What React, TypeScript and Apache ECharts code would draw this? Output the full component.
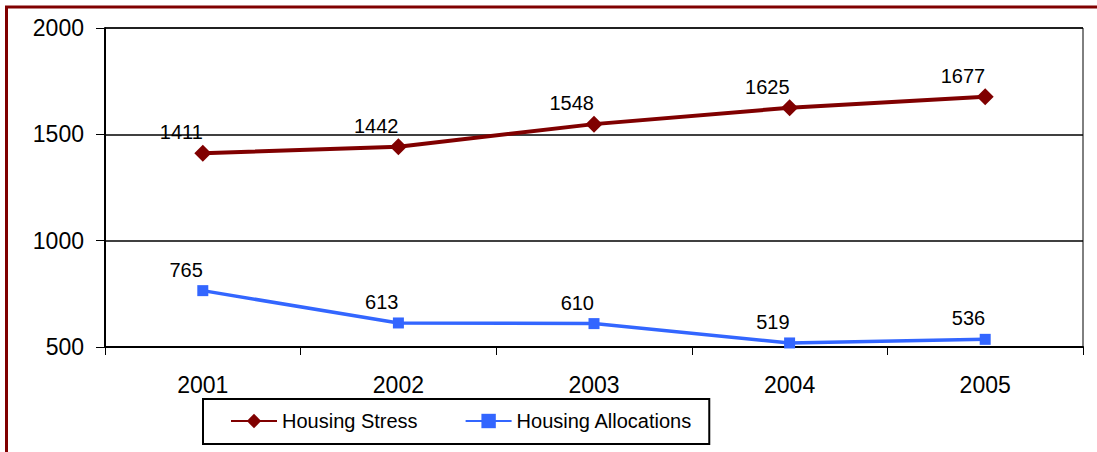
import React, { useEffect, useRef } from "react";
import * as echarts from "echarts";

const years = ["2001", "2002", "2003", "2004", "2005"];
const housingStress = [1411, 1442, 1548, 1625, 1677];
const housingAllocations = [765, 613, 610, 519, 536];
const yMin = 500;
const yMax = 2000;
const yStep = 500;

const FONT = "'Liberation Sans', Arial, sans-serif";

export default function App() {
  const ref = useRef<HTMLDivElement>(null);
  useEffect(() => {
    document.body.style.margin = "0";
    const chart = echarts.init(ref.current!, null, { renderer: "svg" });
    const labelCfg = {
      show: true,
      position: "inside",
      align: "right",
      offset: [0, -21],
      fontSize: 20,
      color: "#000",
      fontFamily: FONT,
    };
    chart.setOption({
      animation: false,
      backgroundColor: "#fff",
      textStyle: { fontFamily: FONT },
      graphic: [
        {
          type: "rect",
          shape: { x: 6.5, y: 7, width: 1300, height: 800 },
          style: { fill: "none", stroke: "#800000", lineWidth: 3 },
          silent: true,
          z: 100,
        },
      ],
      grid: {
        left: 105,
        top: 28,
        right: 14,
        bottom: 105,
        show: true,
        borderColor: "#000",
        borderWidth: 1,
      },
      legend: {
        left: 203,
        top: 399,
        padding: [12, 17, 13, 27],
        borderColor: "#000",
        borderWidth: 2,
        itemWidth: 46,
        itemHeight: 18,
        itemGap: 47,
        textStyle: { fontSize: 20, color: "#000", fontFamily: FONT },
        data: ["Housing Stress", "Housing Allocations"],
      },
      xAxis: {
        type: "category",
        data: years,
        axisLine: { lineStyle: { color: "#000", width: 2 } },
        axisTick: { show: true, length: 8, lineStyle: { color: "#000", width: 1 } },
        axisLabel: { fontSize: 23, color: "#000", margin: 26, fontFamily: FONT },
        splitLine: { show: false },
      },
      yAxis: {
        type: "value",
        min: yMin,
        max: yMax,
        interval: yStep,
        axisLine: { show: true, lineStyle: { color: "#000", width: 2 } },
        axisTick: { show: true, length: 9, lineStyle: { color: "#000", width: 1 } },
        axisLabel: {
          fontSize: 23,
          color: "#000",
          margin: 21,
          fontFamily: FONT,
          formatter: (v: number) => String(v),
        },
        splitLine: { show: true, lineStyle: { color: "#000", width: 1.5 } },
      },
      series: [
        {
          name: "Housing Stress",
          type: "line",
          data: housingStress,
          symbol: "diamond",
          symbolSize: 17,
          lineStyle: { color: "#800000", width: 4 },
          itemStyle: { color: "#800000" },
          label: labelCfg,
          z: 3,
        },
        {
          name: "Housing Allocations",
          type: "line",
          data: housingAllocations,
          symbol: "rect",
          symbolSize: 11,
          lineStyle: { color: "#3366FF", width: 3.5 },
          itemStyle: { color: "#3366FF" },
          label: labelCfg,
          z: 3,
        },
      ],
    });
    return () => chart.dispose();
  }, []);
  return (
    <div
      ref={ref}
      style={{ position: "absolute", left: 0, top: 0, width: 1097, height: 452 }}
    />
  );
}
